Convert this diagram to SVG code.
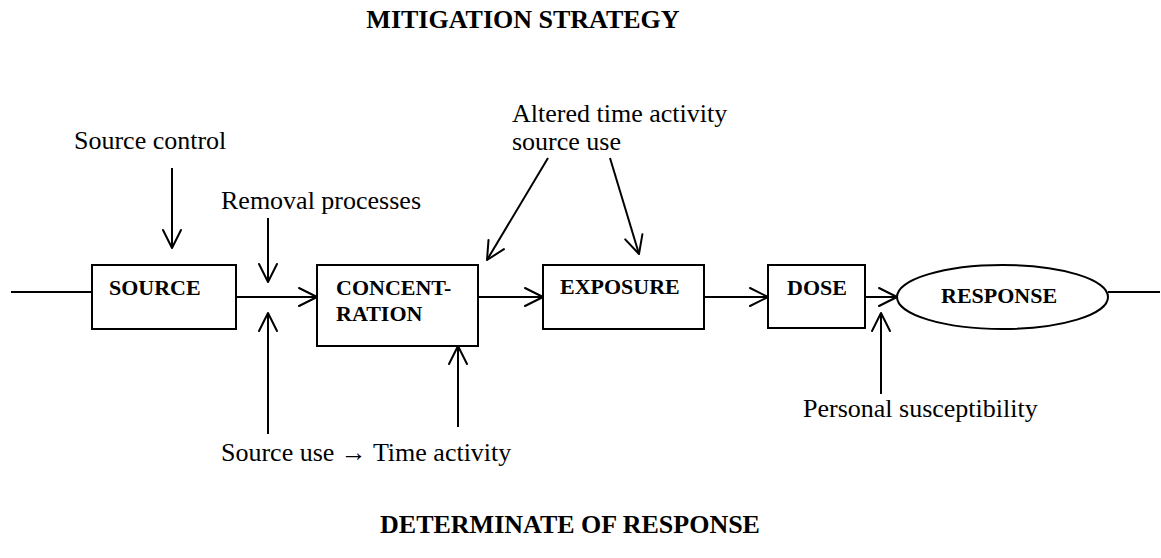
<svg xmlns="http://www.w3.org/2000/svg" width="1161" height="558" viewBox="0 0 1161 558">
<defs>
<style>
.box{fill:#fff;stroke:#000;stroke-width:2}
.ln{fill:none;stroke:#000;stroke-width:2}
.arr{fill:none;stroke:#000;stroke-width:2;marker-end:url(#ah)}
.lbl{font-family:"Liberation Serif","Times New Roman",serif;font-size:26px;fill:#000}
.hd{font-family:"Liberation Serif","Times New Roman",serif;font-size:26px;font-weight:bold;fill:#000}
.bx{font-family:"Liberation Serif","Times New Roman",serif;font-size:22px;font-weight:bold;fill:#000}
</style>
<marker id="ah" markerUnits="userSpaceOnUse" markerWidth="24" markerHeight="24" viewBox="-20 -12 24 24" refX="0" refY="0" orient="auto">
<path d="M-18,-9 L0,0 L-18,9" fill="none" stroke="#000" stroke-width="2" stroke-linejoin="round" stroke-linecap="round"/>
</marker>
</defs>
<rect width="1161" height="558" fill="#fff"/>
<g id="titles">
<text class="hd" x="523" y="28" text-anchor="middle">MITIGATION STRATEGY</text>
<text class="hd" x="570" y="533" text-anchor="middle">DETERMINATE OF RESPONSE</text>
</g>
<g id="labels">
<text class="lbl" x="74" y="149">Source control</text>
<text class="lbl" x="221" y="209">Removal processes</text>
<text class="lbl" x="512" y="122">Altered time activity</text>
<text class="lbl" x="512" y="150">source use</text>
<text class="lbl" x="221" y="461">Source use → Time activity</text>
<text class="lbl" x="803" y="417">Personal susceptibility</text>
</g>
<g id="source">
<rect class="box" x="92" y="265" width="144" height="64"/>
<text class="bx" x="109" y="295">SOURCE</text>
</g>
<g id="concentration">
<rect class="box" x="317" y="265" width="161" height="81"/>
<text class="bx" x="336" y="295">CONCENT-</text>
<text class="bx" x="336" y="321">RATION</text>
</g>
<g id="exposure">
<rect class="box" x="543" y="265" width="161" height="64"/>
<text class="bx" x="560" y="294">EXPOSURE</text>
</g>
<g id="dose">
<rect class="box" x="768" y="265" width="97" height="63"/>
<text class="bx" x="787" y="295">DOSE</text>
</g>
<g id="response">
<ellipse class="box" cx="1002.5" cy="297" rx="105.5" ry="32"/>
<text class="bx" x="941" y="303">RESPONSE</text>
</g>
<g id="connectors">
<line class="ln" x1="11" y1="292" x2="92" y2="292"/>
<line class="ln" x1="1108" y1="292" x2="1160" y2="292"/>
<line class="arr" x1="236" y1="297" x2="317" y2="297"/>
<line class="arr" x1="478" y1="297" x2="543" y2="297"/>
<line class="arr" x1="704" y1="297" x2="768" y2="297"/>
<line class="arr" x1="865" y1="297" x2="897" y2="297"/>
<line class="arr" x1="172" y1="168" x2="172" y2="248"/>
<line class="arr" x1="268" y1="218" x2="268" y2="282"/>
<line class="arr" x1="548" y1="158" x2="487" y2="260"/>
<line class="arr" x1="610" y1="158" x2="639" y2="254"/>
<line class="arr" x1="268" y1="434" x2="268" y2="313"/>
<line class="arr" x1="458" y1="427" x2="458" y2="346"/>
<line class="arr" x1="881" y1="394" x2="881" y2="313"/>
</g>
</svg>
